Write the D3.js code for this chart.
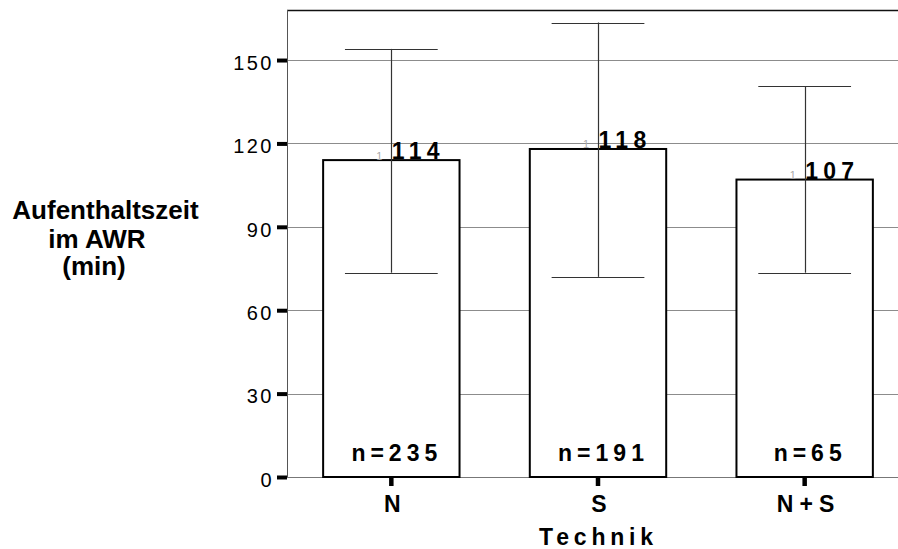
<!DOCTYPE html>
<html>
<head>
<meta charset="utf-8">
<script src="https://cdn.jsdelivr.net/npm/d3@7"></script>
<style>
  html, body { margin: 0; padding: 0; background: #fff; }
  svg { display: block; font-family: "Liberation Sans", Arial, Helvetica, sans-serif; }
</style>
</head>
<body>
<svg id="chart" width="898" height="549"></svg>
<script>
// ---- data ----
const categories = ["N", "S", "N+S"];
const means = [114, 118, 107];
const upperValues = [154, 163.5, 140.5];
const lowerValues = [73.5, 72, 73.5];
const counts = [235, 191, 65];
const yTicks = [0, 30, 60, 90, 120, 150];
const yTitleLines = ["Aufenthaltszeit", "im AWR", "(min)"];
const xTitle = "Technik";

(function () {
// ---- layout ----
const svg = d3.select("#chart");
const pLeft = 287, pTop = 10, pBottom = 477, pRight = 908;

const y = d3.scaleLinear().domain([0, 168]).range([pBottom, pTop]);
const x = d3.scaleBand().domain(categories).range([pLeft + 1, pRight])
  .paddingInner(0.34).paddingOuter(0.17);
const bw = x.bandwidth();
const cx = c => x(c) + bw / 2;

// gridlines
svg.append("g").selectAll("line")
  .data(yTicks.filter(t => t > 0))
  .join("line")
  .attr("x1", pLeft).attr("x2", pRight)
  .attr("y1", d => Math.round(y(d)) + 0.5).attr("y2", d => Math.round(y(d)) + 0.5)
  .attr("stroke", "#8c8c8c").attr("stroke-width", 1);

// bottom baseline
svg.append("line")
  .attr("x1", pLeft).attr("x2", pRight)
  .attr("y1", Math.round(y(0)) + 0.5).attr("y2", Math.round(y(0)) + 0.5)
  .attr("stroke", "#777").attr("stroke-width", 1);

// top frame line
svg.append("line")
  .attr("x1", pLeft).attr("x2", pRight)
  .attr("y1", pTop + 0.5).attr("y2", pTop + 0.5)
  .attr("stroke", "#111").attr("stroke-width", 1.5);

// left axis line
svg.append("line")
  .attr("x1", pLeft + 0.5).attr("x2", pLeft + 0.5)
  .attr("y1", pTop).attr("y2", pBottom)
  .attr("stroke", "#555").attr("stroke-width", 1);

// bars
svg.append("g").selectAll("rect")
  .data(categories)
  .join("rect")
  .attr("x", d => x(d))
  .attr("y", (d, i) => y(means[i]))
  .attr("width", bw)
  .attr("height", (d, i) => y(0) - y(means[i]))
  .attr("fill", "#fff")
  .attr("stroke", "#000")
  .attr("stroke-width", 2);

// error bars
const capHalf = bw * 0.34;
const eg = svg.append("g");
eg.selectAll("line.whisker")
  .data(categories)
  .join("line")
  .attr("class", "whisker")
  .attr("x1", d => Math.round(cx(d)) + 0.5).attr("x2", d => Math.round(cx(d)) + 0.5)
  .attr("y1", (d, i) => y(lowerValues[i])).attr("y2", (d, i) => y(upperValues[i]))
  .attr("stroke", "#333").attr("stroke-width", 1.2);
eg.selectAll("line.capU")
  .data(categories)
  .join("line")
  .attr("class", "capU")
  .attr("x1", d => cx(d) - capHalf).attr("x2", d => cx(d) + capHalf)
  .attr("y1", (d, i) => Math.round(y(upperValues[i])) + 0.5)
  .attr("y2", (d, i) => Math.round(y(upperValues[i])) + 0.5)
  .attr("stroke", "#333").attr("stroke-width", 1.2);
eg.selectAll("line.capL")
  .data(categories)
  .join("line")
  .attr("class", "capL")
  .attr("x1", d => cx(d) - capHalf).attr("x2", d => cx(d) + capHalf)
  .attr("y1", (d, i) => Math.round(y(lowerValues[i])) + 0.5)
  .attr("y2", (d, i) => Math.round(y(lowerValues[i])) + 0.5)
  .attr("stroke", "#333").attr("stroke-width", 1.2);

// small grey marks left of value labels
svg.append("g").selectAll("text")
  .data(categories)
  .join("text")
  .attr("x", d => cx(d) - 15)
  .attr("y", (d, i) => y(means[i]) - 0.5)
  .attr("font-size", 11)
  .attr("fill", "#aaa")
  .text("1");

// value labels
svg.append("g").selectAll("text")
  .data(categories)
  .join("text")
  .attr("x", d => cx(d) + 0.5)
  .attr("y", (d, i) => y(means[i]) - 1)
  .attr("font-size", 23)
  .attr("font-weight", "bold")
  .attr("letter-spacing", 5.3)
  .attr("fill", "#000")
  .text((d, i) => means[i]);

// n labels
svg.append("g").selectAll("text")
  .data(categories)
  .join("text")
  .attr("x", d => cx(d) + 5.5)
  .attr("y", y(0) - 16)
  .attr("text-anchor", "middle")
  .attr("font-size", 23)
  .attr("font-weight", "bold")
  .attr("letter-spacing", 5)
  .attr("fill", "#000")
  .text((d, i) => "n=" + counts[i]);

// y axis
const yAxis = svg.append("g")
  .attr("transform", `translate(${pLeft},0)`)
  .call(d3.axisLeft(y).tickValues(yTicks).tickSize(10).tickPadding(3).tickFormat(d3.format("d")));
yAxis.select(".domain").remove();
yAxis.selectAll(".tick line").attr("stroke", "#000").attr("stroke-width", 4);
yAxis.selectAll(".tick text")
  .attr("font-family", "'Liberation Sans', Arial, sans-serif")
  .attr("font-size", 20)
  .attr("letter-spacing", 2.5)
  .attr("dy", "0.46em")
  .attr("fill", "#000");

// x axis
const xAxis = svg.append("g")
  .attr("transform", `translate(0,${pBottom})`)
  .call(d3.axisBottom(x).tickSize(9).tickPadding(0));
xAxis.select(".domain").remove();
xAxis.selectAll(".tick line").attr("stroke", "#000").attr("stroke-width", 4.5);
xAxis.selectAll(".tick text")
  .attr("font-family", "'Liberation Sans', Arial, sans-serif")
  .attr("font-size", 23)
  .attr("font-weight", "bold")
  .attr("letter-spacing", 6.2)
  .attr("x", 4)
  .attr("y", 35)
  .attr("dy", 0)
  .attr("fill", "#000");

// x title
svg.append("text")
  .attr("x", (pLeft + pRight) / 2 + 1)
  .attr("y", 545)
  .attr("text-anchor", "middle")
  .attr("font-size", 23)
  .attr("font-weight", "bold")
  .attr("letter-spacing", 4.8)
  .attr("fill", "#000")
  .text(xTitle);

// y title (three lines)
const yTitleX = [105.5, 97, 94];
const yTitleY = [219, 247.5, 275];
svg.append("g").selectAll("text")
  .data(yTitleLines)
  .join("text")
  .attr("x", (d, i) => yTitleX[i])
  .attr("y", (d, i) => yTitleY[i])
  .attr("text-anchor", "middle")
  .attr("font-size", 26)
  .attr("font-weight", "bold")
  .attr("fill", "#000")
  .text(d => d);
})();
</script>
</body>
</html>
